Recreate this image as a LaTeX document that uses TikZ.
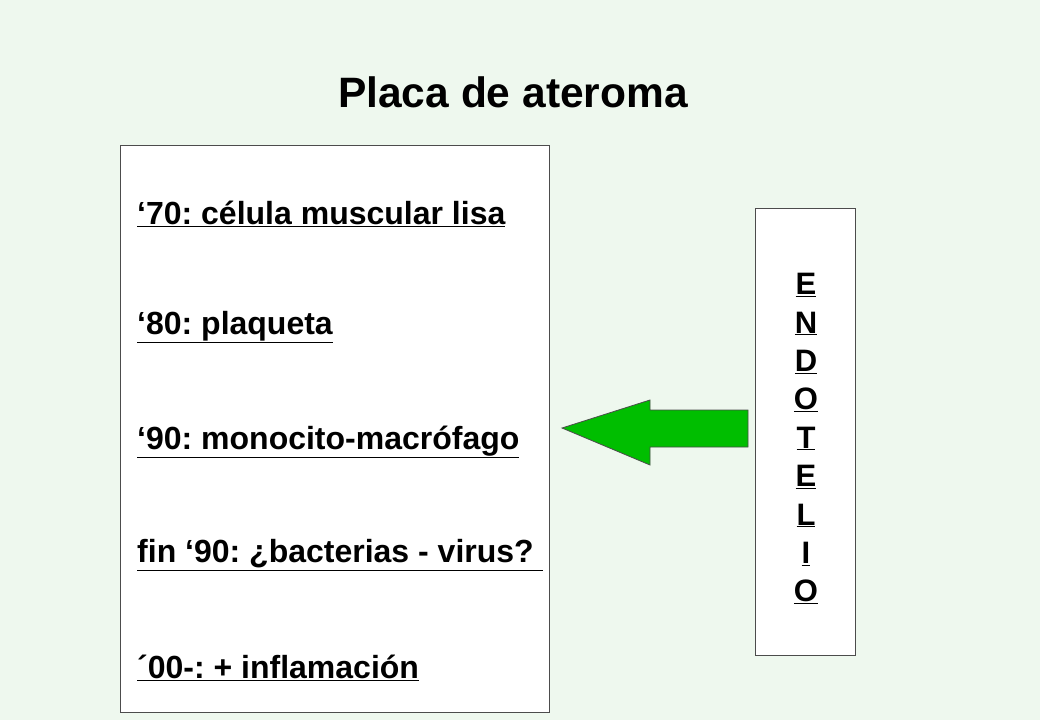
\documentclass[tikz,border=0pt]{standalone}
\usepackage{fontspec}
\setmainfont{Liberation Sans}
\frenchspacing
\begin{document}
\begin{tikzpicture}[x=1pt,y=-1pt,
  item/.style={anchor=west,inner sep=0,font=\fontsize{32}{36}\selectfont\bfseries\frenchspacing},
  letter/.style={inner sep=0,font=\fontsize{31}{36}\selectfont\bfseries}]
\fill[fill={rgb,255:red,238;green,248;blue,238}] (0,0) rectangle (1040,720);
\useasboundingbox (0,0) rectangle (1040,720);
\node[inner sep=0,font=\fontsize{42.5}{46}\selectfont\bfseries] (title) at (513,92) {Placa de ateroma};
\node[draw=black!70,fill=white,minimum width=429,minimum height=567,inner sep=0] (left) at (334.5,428.5) {};
\node[draw=black!70,fill=white,minimum width=100,minimum height=447,inner sep=0] (right) at (805,431.5) {};
\node[item] (t1) at (137,214) {\underline{‘70: célula muscular lisa}};
\node[item] (t2) at (137,327) {\underline{‘80: plaqueta}};
\node[item] (t3) at (137,442) {\underline{‘90: monocito-macrófago}};
\node[item] (t4) at (137,555) {\underline{fin ‘90: ¿bacterias - virus? }};
\node[item] (t5) at (137,668) {\underline{´00-: + inflamación}};
\foreach \l [count=\i] in {E,N,D,O,T,E,L,I,O}
  \node[letter] (e\i) at (806,285+38.4*\i-38.4) {\underline{\l}};
\draw[fill={rgb,255:red,0;green,190;blue,0},draw=black!70,line width=0.8pt]
  (562,428) -- (650,400) -- (650,410) -- (748,410) -- (748,447) -- (650,447) -- (650,465) -- cycle;
\end{tikzpicture}
\end{document}
